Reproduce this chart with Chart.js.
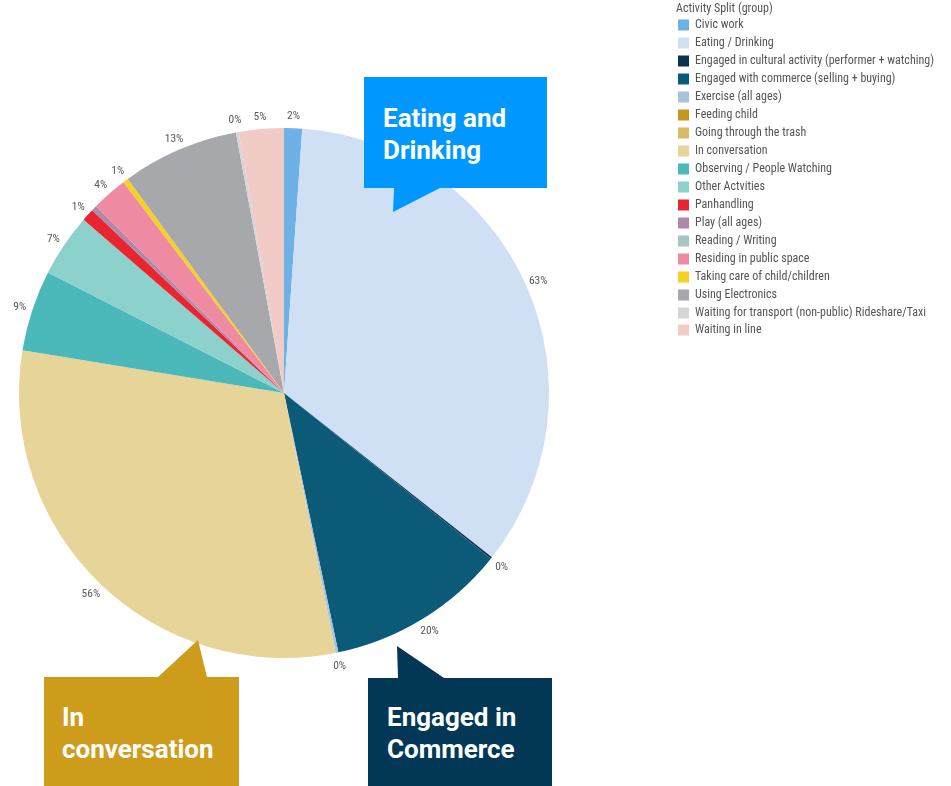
<!DOCTYPE html>
<html>
<head>
<meta charset="utf-8">
<script src="https://cdn.jsdelivr.net/npm/chart.js@4/dist/chart.umd.min.js"></script>
<style>
  html, body { margin: 0; padding: 0; background: #fff; }
  #wrap { position: relative; width: 951px; height: 786px; overflow: hidden; }
  #chart { position: absolute; left: 0; top: 0; }
  .callout {
    position: absolute; color: #fff; font-family: Roboto, "Open Sans", sans-serif;
    font-weight: 700; font-size: 26px; line-height: 32px; box-sizing: border-box;
    white-space: nowrap;
  }
  #c-eat { left: 364px; top: 77px; width: 183px; height: 135px; background: #0098fe;
    padding: 25px 0 0 19px;
    clip-path: polygon(0 0, 183px 0, 183px 111px, 76px 111px, 29px 135px, 30px 111px, 0 111px); }
  #c-conv { left: 44px; top: 640px; width: 195px; height: 146px; background: #cd9c1a;
    padding: 61px 0 0 18px;
    clip-path: polygon(0 37px, 114px 37px, 154px 0, 163px 37px, 195px 37px, 195px 146px, 0 146px); }
  #c-com { left: 368px; top: 646px; width: 184px; height: 140px; background: #023856;
    padding: 55px 0 0 19px;
    clip-path: polygon(0 32px, 30px 32px, 29px 0, 76px 32px, 184px 32px, 184px 140px, 0 140px); }
</style>
</head>
<body>
<div id="wrap">
  <canvas id="chart" width="951" height="786"></canvas>
  <div class="callout" id="c-eat">Eating and<br>Drinking</div>
  <div class="callout" id="c-conv">In<br>conversation</div>
  <div class="callout" id="c-com">Engaged in<br>Commerce</div>
</div>
<script>
// Activity categories, clockwise from 12 o'clock
const activities = [
  'Civic work',
  'Eating / Drinking',
  'Engaged in cultural activity (performer + watching)',
  'Engaged with commerce (selling + buying)',
  'Exercise (all ages)',
  'Feeding child',
  'Going through the trash',
  'In conversation',
  'Observing / People Watching',
  'Other Actvities',
  'Panhandling',
  'Play (all ages)',
  'Reading / Writing',
  'Residing in public space',
  'Taking care of child/children',
  'Using Electronics',
  'Waiting for transport (non-public) Rideshare/Taxi',
  'Waiting in line'
];

// Share of observations (%) per activity
const sharePct = [2, 63, 0.2, 20, 0.3, 0, 0, 56, 9, 7, 1.4, 0.6, 0, 4, 0.6, 13, 0.3, 5];

// Slices whose value label is left off (crowded edge)
const hiddenLabels = ['Play (all ages)'];

const sliceColors = [
  '#6db1e6', '#cfe0f4', '#0e3350', '#0a5a78', '#a8c4da', '#c8951f',
  '#d8bb62', '#e6d498', '#4bb8b9', '#8dd1cd', '#e8262f', '#b089a9',
  '#a8c5bf', '#ee8aa1', '#f5d122', '#a7a8ac', '#d3d5d7', '#f1cbc6'
];

const legendTitle = 'Activity Split (group)';
const smallFont = '"Liberation Sans Narrow", "Roboto Condensed", "Liberation Sans", sans-serif';

// Percentage labels just outside the rim
const sliceLabels = {
  id: 'sliceLabels',
  afterDatasetsDraw(chart) {
    const ctx = chart.ctx;
    const meta = chart.getDatasetMeta(0);
    ctx.save();
    ctx.font = '11.5px ' + smallFont;
    ctx.fillStyle = '#5a5a5a';
    ctx.textAlign = 'center';
    ctx.textBaseline = 'middle';
    meta.data.forEach((arc, i) => {
      const v = sharePct[i];
      if (!v || hiddenLabels.includes(activities[i])) return;
      const mid = (arc.startAngle + arc.endAngle) / 2;
      const r = arc.outerRadius + 13;
      ctx.fillText(Math.round(v) + '%', arc.x + Math.cos(mid) * r, arc.y + Math.sin(mid) * r + 1);
    });
    ctx.restore();
  }
};

// Colour key on the right
const sideLegend = {
  id: 'sideLegend',
  afterDraw(chart) {
    const ctx = chart.ctx;
    const x0 = 677, y0 = 9, step = 18;
    ctx.save();
    ctx.font = '12px ' + smallFont;
    ctx.textBaseline = 'middle';
    ctx.textAlign = 'left';
    ctx.fillStyle = '#555';
    ctx.fillText(legendTitle, x0 - 1, y0);
    activities.forEach((name, i) => {
      const cy = y0 + step * (i + 1) - 2 + (i >= 17 ? -1 : 0);
      ctx.fillStyle = sliceColors[i];
      ctx.fillRect(x0 + 1, cy - 5.5, 11, 11);
      ctx.fillStyle = '#555';
      ctx.fillText(name, x0 + 18, cy);
    });
    ctx.restore();
  }
};

new Chart(document.getElementById('chart'), {
  type: 'pie',
  data: {
    labels: activities,
    datasets: [{
      data: sharePct,
      backgroundColor: sliceColors,
      borderWidth: 0
    }]
  },
  options: {
    responsive: false,
    animation: false,
    devicePixelRatio: 1,
    layout: { padding: { left: 19, right: 402, top: 128, bottom: 128 } },
    plugins: {
      legend: { display: false },
      tooltip: { enabled: false }
    }
  },
  plugins: [sliceLabels, sideLegend]
});
</script>
</body>
</html>
